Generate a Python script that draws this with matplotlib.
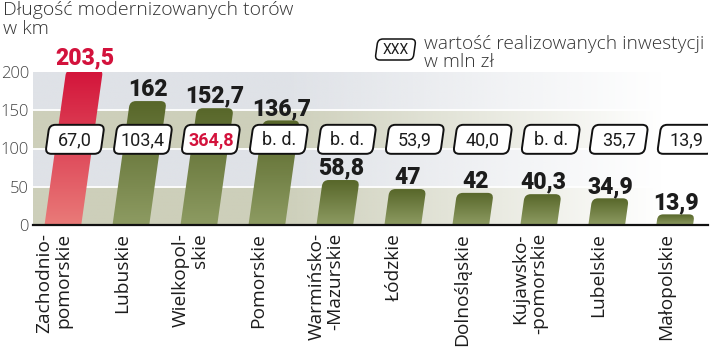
import numpy as np
import matplotlib
matplotlib.use('Agg')
import matplotlib.pyplot as plt
from matplotlib.path import Path
from matplotlib.patches import PathPatch
from matplotlib.colors import LinearSegmentedColormap

# data
regions = ['Zachodnio-\npomorskie', 'Lubuskie', 'Wielkopol-\nskie', 'Pomorskie',
           'Warmińsko-\n-Mazurskie', 'Łódzkie', 'Dolnośląskie', 'Kujawsko-\n-pomorskie',
           'Lubelskie', 'Małopolskie']
track_km = [203.5, 162, 152.7, 136.7, 58.8, 47, 42, 40.3, 34.9, 13.9]
invest_mln = [67.0, 103.4, 364.8, None, None, 53.9, 40.0, None, 35.7, 13.9]
highlight = [0, None, 2]  # red bar index, red box index
yticks = [0, 50, 100, 150, 200]

RED = '#d3123c'
TEXT = '#1c1c1c'
LIGHT = 'Open Sans'
NUM = 'Roboto'


def fmt(v):
    return 'b. d.' if v is None else ('%.1f' % v).replace('.', ',')


def rounded_path(pts, radii, sx, sy):
    # polygon with rounded corners, radius given in pixels
    P = [np.array([x * sx, y * sy]) for x, y in pts]
    n = len(P)
    verts, codes = [], []
    for i in range(n):
        c, p, q = P[i], P[i - 1], P[(i + 1) % n]
        r = radii[i]
        a = c + (p - c) / np.linalg.norm(p - c) * r
        b = c + (q - c) / np.linalg.norm(q - c) * r
        verts += [a, c, b]
        codes += [Path.MOVETO if i == 0 else Path.LINETO, Path.CURVE3, Path.CURVE3]
    verts.append(verts[0])
    codes.append(Path.CLOSEPOLY)
    return Path([(vx / sx, vy / sy) for vx, vy in verts], codes)


W, H = 720, 351
fig = plt.figure(figsize=(W / 100, H / 100), dpi=100)
ax = fig.add_axes([33 / W, 126 / H, 675 / W, 153 / H])
xlim = (-0.44, 9.49)
ylim = (0, 200)
SX = 675 / (xlim[1] - xlim[0])   # px per x unit
SY = 153 / (ylim[1] - ylim[0])   # px per y unit
SLANT = 0.14 * SY / SX           # x shift per y unit
HW = 0.27

# background bands fading to the right
ny, nx = 200, 400
bg = np.ones((ny, nx, 4))
c_a = np.array(matplotlib.colors.to_rgb('#cdcfba'))
c_b = np.array(matplotlib.colors.to_rgb('#dfe2e7'))
for j in range(ny):
    bg[j, :, :3] = c_a if (j // 50) % 2 == 0 else c_b
xs = np.linspace(0, 675, nx)
alpha = np.clip(1 - (xs - 250) / 380, 0, 1)
bg[:, :, 3] = alpha[None, :]
ax.imshow(bg, extent=[xlim[0], xlim[1], 0, 200], origin='lower', aspect='auto', zorder=0,
          interpolation='bilinear')
for t in yticks[1:-1]:
    ax.axhline(t, color='white', lw=1.3, zorder=1)

olive = LinearSegmentedColormap.from_list('olive', ['#8d9b62', '#58672a'])
redmap = LinearSegmentedColormap.from_list('red', ['#e97a78', '#d3143a'])
grad = np.linspace(0, 1, 100).reshape(-1, 1)

for i, v in enumerate(track_km):
    s = SLANT * v
    rtop = min(6, v * SY / 2)
    pts = [(i - HW, 0), (i + HW, 0), (i + HW + s, v), (i - HW + s, v)]
    path = rounded_path(pts, [0, 0, rtop, rtop], SX, SY)
    patch = PathPatch(path, fc='none', ec='none', zorder=2)
    ax.add_patch(patch)
    im = ax.imshow(grad, extent=[i - HW - 0.05, i + HW + s + 0.05, 0, v], origin='lower',
                   aspect='auto', cmap=redmap if i == highlight[0] else olive, zorder=2)
    im.set_clip_path(patch)
    ax.text(i + s, v + 7, fmt(v) if v % 1 else '%d' % v, ha='center', va='baseline',
            fontsize=16.5, fontweight='heavy', family=NUM,
            color=RED if i == highlight[0] else TEXT, zorder=5)

# investment boxes
by, bh, bw = 112, 29 / SY, 0.405
for i, m in enumerate(invest_mln):
    cx = i + SLANT * by
    y0, y1 = by - bh / 2, by + bh / 2
    pts = [(cx - bw - SLANT * bh / 2, y0), (cx + bw - SLANT * bh / 2, y0),
           (cx + bw + SLANT * bh / 2, y1), (cx - bw + SLANT * bh / 2, y1)]
    ax.add_patch(PathPatch(rounded_path(pts, [6] * 4, SX, SY), fc='white', ec='#111111',
                           lw=1.4, zorder=4))
    red = i == highlight[2]
    ax.text(cx, by - 1, fmt(m), ha='center', va='center', fontsize=13, family=NUM,
            fontweight='bold' if red else 'normal', color=RED if red else TEXT, zorder=5)

# axes styling
ax.set_xlim(*xlim)
ax.set_ylim(*ylim)
for sp in ax.spines.values():
    sp.set_visible(False)
ax.axhline(0, color='#111111', lw=1.6, zorder=6, clip_on=False)
ax.set_xticks([])
ax.set_yticks(yticks)
ax.tick_params(axis='y', length=0, pad=3, labelsize=12, labelcolor='#444444')
for lbl in ax.get_yticklabels():
    lbl.set_family(LIGHT)
    lbl.set_fontweight('light')

for i, name in enumerate(regions):
    ax.text(i - 0.13, -10.5, name, rotation=90, ha='center', va='top', multialignment='right',
            fontsize=13.8, family=LIGHT, color=TEXT, clip_on=False, linespacing=1.1)

# title and legend
fig.text(3 / W, 1 - 1 / H, 'Długość modernizowanych torów\nw km', ha='left', va='top',
         fontsize=14, family=LIGHT, fontweight='light', color='#333333', linespacing=1.1)

lx, ly, lw_, lh = 375, H - 60, 38, 21
lpts = [(lx, ly), (lx + lw_, ly), (lx + lw_ + 0.14 * lh, ly + lh), (lx + 0.14 * lh, ly + lh)]
fig.patches.append(PathPatch(rounded_path(lpts, [5] * 4, 1, 1), fc='white', ec='#111111',
                             lw=1.1, transform=None))
fig.text((lx + lw_ / 2 + 1.5) / W, (ly + lh / 2) / H, 'XXX', ha='center', va='center',
         fontsize=10, family=NUM, color=TEXT)
fig.text(424 / W, 1 - 35 / H, 'wartość realizowanych inwestycji\nw mln zł', ha='left', va='top',
         fontsize=13.8, family=LIGHT, fontweight='light', color='#333333', linespacing=1.0)

fig.savefig('out.png', dpi=100)
